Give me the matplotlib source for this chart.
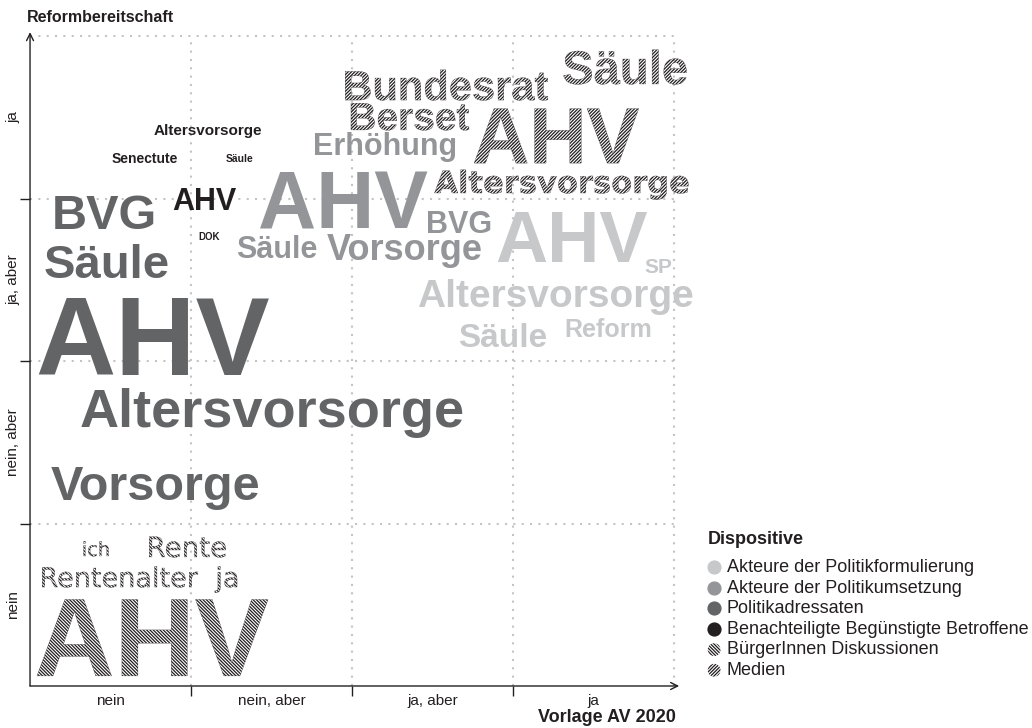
import matplotlib.pyplot as plt
import matplotlib.patches as mpatches
import matplotlib.transforms as mtransforms
from matplotlib.textpath import TextPath
from matplotlib.font_manager import FontProperties

plt.rcParams['font.family'] = ['Liberation Sans', 'DejaVu Sans']
plt.rcParams['hatch.linewidth'] = 0.9

# axis categories
x_categories = ['nein', 'nein, aber', 'ja, aber', 'ja']
y_categories = ['nein', 'nein, aber', 'ja, aber', 'ja']

# Dispositive
groups = ['Akteure der Politikformulierung', 'Akteure der Politikumsetzung',
          'Politikadressaten', 'Benachteiligte Begünstigte Betroffene',
          'BürgerInnen Diskussionen', 'Medien']
group_colors = ['#c7c8ca', '#939598', '#636466', '#231f20', '#231f20', '#231f20']
group_hatch = [None, None, None, None, '\\' * 10, '/' * 10]

# words: x = Vorlage AV 2020, y = Reformbereitschaft (0..4 scale), size in pt
words = ['BVG', 'Säule', 'AHV', 'Altersvorsorge', 'Vorsorge',
         'Altersvorsorge', 'Senectute', 'Säule', 'AHV', 'DOK',
         'Erhöhung', 'AHV', 'BVG', 'Säule', 'Vorsorge',
         'AHV', 'SP', 'Altersvorsorge', 'Säule', 'Reform',
         'Bundesrat', 'Säule', 'Berset', 'AHV', 'Altersvorsorge',
         'ich', 'Rente', 'Rentenalter', 'ja', 'AHV']
word_x = [0.463, 0.475, 0.764, 1.506, 0.780,
          1.102, 0.714, 1.304, 1.084, 1.112,
          2.208, 1.944, 2.668, 1.531, 2.326,
          3.366, 3.900, 3.261, 2.935, 3.590,
          2.587, 3.696, 2.360, 3.270, 3.301,
          0.410, 0.978, 0.559, 1.217, 0.761]
word_y = [2.812, 2.511, 1.914, 1.594, 1.145,
          3.391, 3.218, 3.225, 2.929, 2.745,
          3.268, 2.818, 2.788, 2.634, 2.622,
          2.609, 2.540, 2.332, 2.086, 2.148,
          3.606, 3.705, 3.422, 3.218, 3.034,
          0.800, 0.794, 0.609, 0.609, 0.062]
word_size = [35, 34, 80, 39, 35,
             11, 10, 7.5, 22, 7,
             22, 58, 22, 22, 26,
             52, 15, 28, 24, 18,
             30, 34, 28, 57, 22,
             14, 20, 19.5, 19.5, 80]
word_group = [2, 2, 2, 2, 2,
              3, 3, 3, 3, 3,
              1, 1, 1, 1, 1,
              0, 0, 0, 0, 0,
              5, 5, 5, 5, 5,
              4, 4, 4, 4, 4]
word_font = ['Liberation Sans'] * 24 + ['DejaVu Sans'] * 5 + ['Liberation Sans']
word_weight = ['bold'] * 25 + ['normal'] * 4 + ['bold']

fig = plt.figure(figsize=(10.32, 7.28), dpi=100)
ax = fig.add_axes([0.0291, 0.0577, 0.6240, 0.8928])
ax.set_xlim(0, 4)
ax.set_ylim(0, 4)

for s in ax.spines.values():
    s.set_visible(False)

# ticks between categories, labels centred in each band
ax.set_xticks([1, 2, 3])
ax.set_yticks([1, 2, 3])
ax.set_xticklabels([])
ax.set_yticklabels([])
ax.set_xticks([0.5, 1.5, 2.5, 3.5], minor=True)
ax.set_yticks([0.5, 1.5, 2.5, 3.5], minor=True)
ax.set_xticklabels(x_categories, minor=True)
ax.set_yticklabels(y_categories, minor=True, rotation=90, va='center')
ax.tick_params(which='major', length=7, width=1, direction='out', color='#231f20')
ax.tick_params(which='minor', length=0, labelsize=11, labelcolor='#231f20')
ax.tick_params(axis='x', which='minor', pad=6)
ax.tick_params(axis='y', which='minor', pad=7)

grid_kw = dict(color='#c4c4c4', linestyle=(0, (1, 3)), lw=1.5, zorder=0)
ax.grid(which='major', **grid_kw)
ax.axhline(4, **grid_kw, clip_on=False)
ax.axvline(4, **grid_kw, clip_on=False)

arrow_kw = dict(arrowstyle='->,head_length=0.5,head_width=0.25', lw=1,
                color='#231f20', shrinkA=0, shrinkB=0)
ax.annotate('', xy=(1.008, 0), xytext=(0, 0), xycoords='axes fraction',
            arrowprops=arrow_kw, annotation_clip=False)
ax.annotate('', xy=(0, 1.006), xytext=(0, 0), xycoords='axes fraction',
            arrowprops=arrow_kw, annotation_clip=False)

fig.text(27 / 1032, 1 - 18 / 728, 'Reformbereitschaft', fontsize=11.5,
         fontweight='bold', color='#231f20', ha='left', va='center')
fig.text(676 / 1032, 1 - 717 / 728, 'Vorlage AV 2020', fontsize=13,
         fontweight='bold', color='#231f20', ha='right', va='center')

for w, x, y, s, g, f, wt in zip(words, word_x, word_y, word_size,
                                word_group, word_font, word_weight):
    if group_hatch[g] is None:
        ax.text(x, y, w, fontsize=s, color=group_colors[g], ha='center',
                va='baseline', fontweight=wt, family=f, zorder=3)
    else:
        tp = TextPath((0, 0), w, size=s, prop=FontProperties(family=f, weight=wt))
        ext = tp.get_extents()
        tr = (mtransforms.Affine2D().translate(-(ext.x0 + ext.x1) / 2, 0)
              .scale(fig.dpi / 72)
              + mtransforms.ScaledTranslation(x, y, ax.transData))
        p = ax.add_patch(mpatches.PathPatch(tp, transform=tr, facecolor='none',
                                            edgecolor=group_colors[g], lw=0.2,
                                            hatch=group_hatch[g], zorder=3))
        p.set_clip_on(False)

# legend
fig.text(708 / 1032, 1 - 540 / 728, 'Dispositive', fontsize=13,
         fontweight='bold', color='#231f20', ha='left', va='center')
handles = []
for lab, c, h in zip(groups, group_colors, group_hatch):
    if h is None:
        handles.append(ax.scatter([], [], s=85, color=c, label=lab))
    else:
        handles.append(ax.scatter([], [], s=85, facecolor='none', edgecolor=c,
                                  hatch=h, linewidths=0, label=lab))
leg = ax.legend(handles=handles, loc='lower left',
                bbox_to_anchor=(706 / 1032, 1 - 679 / 728),
                bbox_transform=fig.transFigure, frameon=False,
                fontsize=13, handlelength=0.9, handletextpad=0.25,
                labelspacing=0.2, borderpad=0, borderaxespad=0)
for t in leg.get_texts():
    t.set_color('#231f20')

fig.savefig('out.png', dpi=100)
